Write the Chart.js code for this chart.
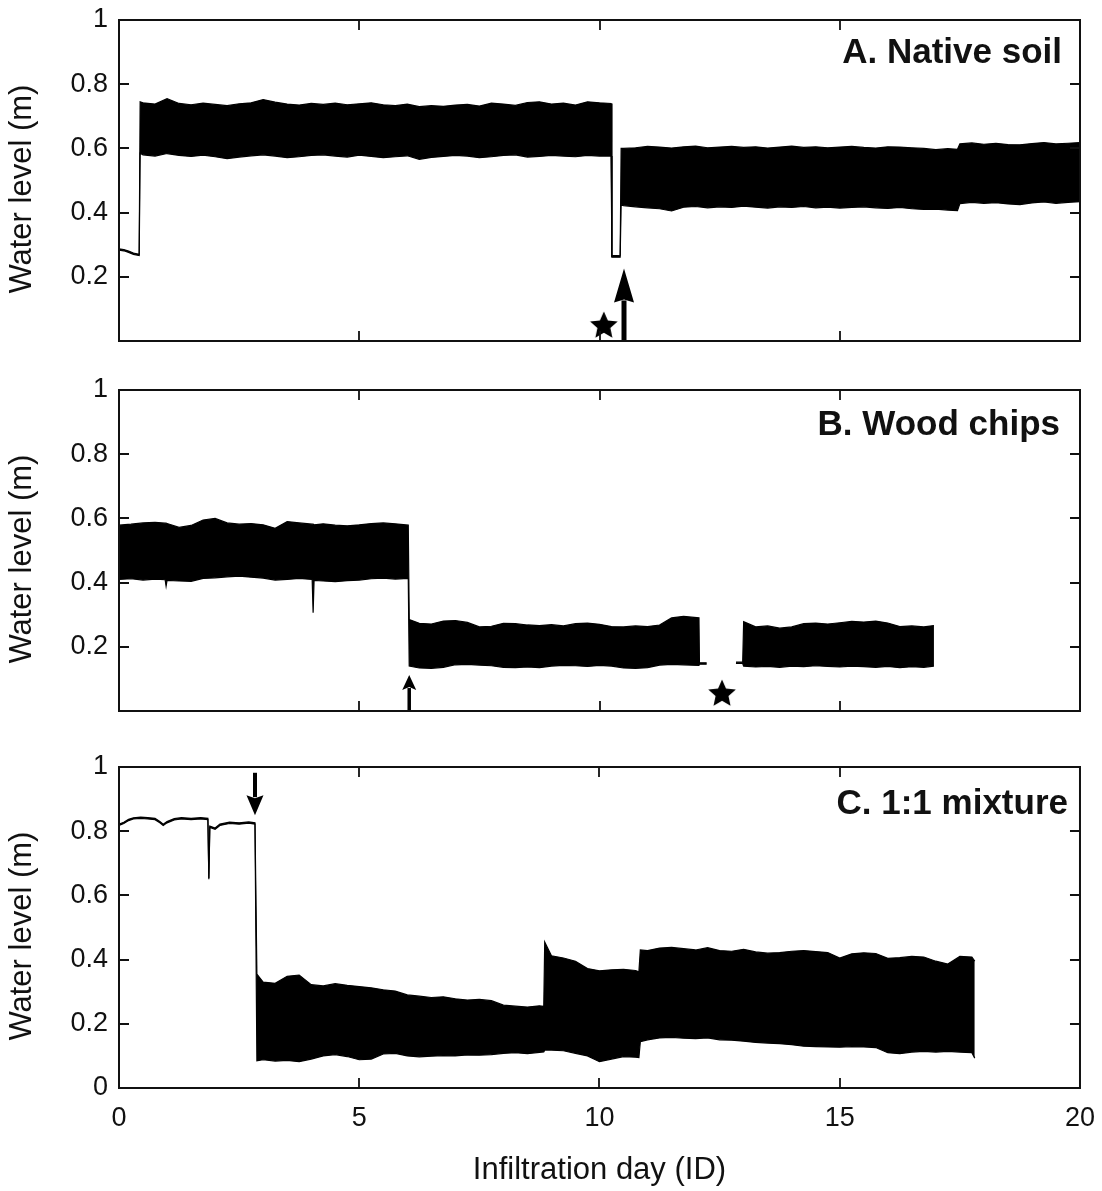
<!DOCTYPE html>
<html>
<head>
<meta charset="utf-8">
<script src="https://cdn.jsdelivr.net/npm/chart.js@4.4.0/dist/chart.umd.min.js"></script>
<style>
  body { margin: 0; background: #fff; overflow: hidden; }
  #wrap { position: relative; width: 1102px; height: 1191px; overflow: hidden; }
  canvas { position: absolute; left: 0; }
</style>
</head>
<body>
<div id="wrap">
  <canvas id="panelA" width="1109" height="381" style="top:-10px"></canvas>
  <canvas id="panelB" width="1109" height="381" style="top:360px"></canvas>
  <canvas id="panelC" width="1109" height="454" style="top:737px"></canvas>
</div>
<script>
// Water level records, read off the figure as upper/lower envelope of the daily cycling
// A. Native soil
const dayA = [0, 0.1, 0.2, 0.3, 0.42, 0.44,
  0.5, 0.75, 1, 1.25, 1.5, 1.75, 2, 2.25, 2.5, 2.75, 3, 3.25, 3.5, 3.75, 4, 4.25, 4.5, 4.75, 5, 5.25, 5.5, 5.75, 6, 6.25,
  6.5, 6.75, 7, 7.25, 7.5, 7.75, 8, 8.25, 8.5, 8.75, 9, 9.25, 9.5, 9.75, 10, 10.24,
  10.26, 10.43, 10.45,
  10.5, 10.75, 11, 11.25, 11.5, 11.75, 12, 12.25, 12.5, 12.75, 13, 13.25, 13.5, 13.75, 14, 14.25, 14.5, 14.75, 15, 15.25,
  15.5, 15.75, 16, 16.25, 16.5, 16.75, 17, 17.25, 17.45, 17.5, 17.75, 18, 18.25, 18.5, 18.75, 19, 19.25, 19.5, 19.75, 20];
const hiA = [.287, .285, .280, .274, .270, .745,
  .742, .738, .755, .740, .736, .741, .737, .733, .739, .742, .752, .744, .738, .735, .740, .737, .741, .736, .739, .742, .736, .733, .738, .730,
  .733, .731, .735, .737, .732, .741, .738, .734, .743, .745, .738, .741, .735, .745, .742, .740,
  .266, .267, .600,
  .600, .602, .606, .604, .601, .605, .607, .602, .604, .606, .603, .605, .601, .604, .607, .603, .605, .602, .604, .606,
  .603, .601, .605, .604, .602, .600, .596, .599, .597, .614, .617, .613, .616, .612, .611, .615, .618, .614, .616, .618];
const loA = [.283, .281, .276, .270, .266, .585,
  .580, .576, .584, .578, .575, .579, .574, .568, .573, .577, .580, .576, .571, .574, .578, .580, .576, .573, .579, .575, .571, .574, .577, .566,
  .572, .575, .578, .576, .571, .574, .578, .580, .573, .575, .578, .576, .574, .578, .576, .576,
  .261, .261, .425,
  .422, .418, .415, .412, .405, .417, .419, .415, .418, .416, .420, .417, .414, .418, .416, .419, .415, .417, .414, .416,
  .418, .415, .413, .416, .412, .410, .411, .408, .406, .428, .432, .429, .431, .427, .425, .430, .433, .429, .432, .434];

// B. Wood chips (null = no record)
const dayB = [0, 0.25, 0.5, 0.75, 0.96, 0.98, 1.0, 1.25, 1.5, 1.75, 2, 2.25, 2.5, 2.75, 3, 3.25, 3.5, 3.75, 4.02, 4.04, 4.06,
  4.25, 4.5, 4.75, 5, 5.25, 5.5, 5.75, 6.02,
  6.04, 6.25, 6.5, 6.75, 7, 7.25, 7.5, 7.75, 8, 8.25, 8.5, 8.75, 9, 9.25, 9.5, 9.75, 10, 10.25, 10.5, 10.75, 11, 11.25, 11.5, 11.75, 12.07,
  12.08, 12.23, 12.5, 12.84, 12.98,
  13.0, 13.25, 13.5, 13.75, 14, 14.25, 14.5, 14.75, 15, 15.25, 15.5, 15.75, 16, 16.25, 16.5, 16.75, 16.96];
const hiB = [.579, .582, .586, .588, .585, .585, .584, .572, .578, .595, .600, .586, .582, .584, .580, .569, .590, .586, .582, .582, .580,
  .583, .579, .577, .580, .584, .586, .583, .579,
  .285, .273, .271, .280, .282, .276, .262, .264, .273, .272, .268, .266, .269, .265, .272, .274, .270, .263, .262, .265, .263, .268, .290, .295, .290,
  .150, .150, null, .152, .152,
  .278, .262, .265, .258, .262, .272, .274, .271, .275, .279, .277, .280, .274, .263, .265, .262, .266];
const loB = [.410, .412, .408, .411, .409, .389, .407, .405, .404, .413, .415, .418, .420, .417, .414, .408, .410, .413, .410, .306, .407,
  .405, .403, .406, .408, .412, .414, .411, .413,
  .140, .134, .133, .136, .144, .145, .143, .141, .136, .135, .137, .135, .140, .142, .141, .139, .142, .140, .134, .133, .135, .143, .145, .144, .142,
  .146, .146, null, .148, .148,
  .140, .137, .139, .136, .140, .138, .141, .139, .137, .140, .138, .136, .139, .135, .138, .136, .140];

// C. 1:1 mixture
const dayC = [0, 0.1, 0.2, 0.3, 0.45, 0.6, 0.75, 0.85, 0.92, 1.0, 1.15, 1.3, 1.5, 1.7, 1.85, 1.87, 1.89, 2.0, 2.1, 2.3, 2.5, 2.7, 2.83,
  2.87, 3, 3.25, 3.5, 3.75, 4, 4.25, 4.5, 4.75, 5, 5.25, 5.5, 5.75, 6, 6.25, 6.5, 6.75, 7, 7.25, 7.5, 7.75, 8, 8.25, 8.5, 8.75, 8.84,
  8.86, 9, 9.25, 9.5, 9.75, 10, 10.25, 10.5, 10.75, 10.82,
  10.85, 11, 11.25, 11.5, 11.75, 12, 12.25, 12.5, 12.75, 13, 13.25, 13.5, 13.75, 14, 14.25, 14.5, 14.75, 15, 15.25, 15.5, 15.75,
  16, 16.25, 16.5, 16.75, 17, 17.25, 17.5, 17.75, 17.81];
const hiC = [.822, .828, .837, .842, .844, .842, .840, .830, .822, .830, .839, .842, .840, .842, .840, .654, .816, .810, .822, .828, .826, .829, .826,
  .355, .330, .326, .348, .352, .322, .318, .325, .320, .316, .312, .306, .302, .290, .286, .282, .284, .278, .274, .276, .272, .258, .255, .252, .256, .254,
  .455, .412, .405, .395, .372, .365, .368, .370, .366, .362,
  .430, .428, .436, .438, .434, .430, .437, .428, .426, .432, .424, .420, .422, .426, .428, .425, .422, .405, .418, .421, .419,
  .404, .406, .410, .408, .395, .386, .410, .408, .395];
const loC = [.818, .824, .833, .838, .840, .838, .836, .826, .818, .826, .835, .838, .836, .838, .836, .650, .812, .806, .818, .824, .822, .825, .822,
  .085, .088, .084, .086, .082, .090, .100, .104, .098, .088, .090, .106, .108, .100, .097, .099, .101, .100, .103, .102, .104, .108, .110, .107, .111, .112,
  .118, .118, .116, .108, .100, .082, .090, .098, .096, .095,
  .144, .150, .156, .158, .155, .154, .156, .150, .149, .146, .142, .140, .138, .135, .130, .129, .128, .127, .129, .128, .126,
  .110, .107, .112, .114, .112, .114, .112, .110, .093];

// markers: star = event, arrow = treatment
const starA = [{ x: 10.09, y: 0.05 }];
const starB = [{ x: 12.55, y: 0.056 }];
const arrowA = { day: 10.51, from: 0, to: 0.226 };
const arrowB = { day: 6.04, from: 0, to: 0.112 };
const arrowC = { day: 2.83, from: 0.982, to: 0.85 };

const panelTitles = ['A. Native soil', 'B. Wood chips', 'C. 1:1 mixture'];
const xTicks = [0, 5, 10, 15, 20];

const FONT = '"Liberation Sans", Arial, Helvetica, sans-serif';
const INK = '#111';

function toPoints(days, vals) {
  return days.map((d, i) => ({ x: d, y: vals[i] }));
}

// filled five point star used as point image
const starImg = document.createElement('canvas');
starImg.width = 30; starImg.height = 30;
(function () {
  const c = starImg.getContext('2d');
  c.beginPath();
  for (let i = 0; i < 10; i++) {
    const r = i % 2 === 0 ? 14.5 : 6.8;
    const a = -Math.PI / 2 + i * Math.PI / 5;
    const px = 15 + r * Math.cos(a), py = 16 + r * Math.sin(a);
    i === 0 ? c.moveTo(px, py) : c.lineTo(px, py);
  }
  c.closePath();
  c.fillStyle = '#000';
  c.fill();
})();

// frame, inward ticks, arrow and panel label
const panelDeco = {
  id: 'panelDeco',
  afterDatasetsDraw(chart, args, opts) {
    const { ctx, chartArea: a, scales: { x, y } } = chart;
    ctx.save();

    if (opts.arrow) {
      const s = opts.arrowStyle;
      const px = x.getPixelForValue(opts.arrow.day);
      const p0 = y.getPixelForValue(opts.arrow.from);
      const p1 = y.getPixelForValue(opts.arrow.to);
      const dir = Math.sign(p1 - p0);
      const base = p1 - dir * s.head;
      ctx.strokeStyle = '#000';
      ctx.fillStyle = '#000';
      ctx.lineWidth = s.shaft;
      ctx.beginPath();
      ctx.moveTo(px, p0);
      ctx.lineTo(px, base + dir * 2);
      ctx.stroke();
      ctx.beginPath();
      ctx.moveTo(px, p1);
      ctx.lineTo(px - s.half, base);
      ctx.lineTo(px, base + dir * 3);
      ctx.lineTo(px + s.half, base);
      ctx.closePath();
      ctx.fill();
    }

    ctx.strokeStyle = INK;
    ctx.lineWidth = 2;
    ctx.strokeRect(a.left, a.top, a.width, a.height);

    ctx.lineWidth = 1.8;
    ctx.beginPath();
    x.ticks.forEach(t => {
      if (t.value <= x.min || t.value >= x.max) return;
      const px = Math.round(x.getPixelForValue(t.value));
      ctx.moveTo(px, a.bottom); ctx.lineTo(px, a.bottom - 10);
      ctx.moveTo(px, a.top); ctx.lineTo(px, a.top + 10);
    });
    y.ticks.forEach(t => {
      if (t.value <= y.min + 1e-9 || t.value >= y.max - 1e-9) return;
      const py = Math.round(y.getPixelForValue(t.value));
      ctx.moveTo(a.left, py); ctx.lineTo(a.left + 10, py);
      ctx.moveTo(a.right, py); ctx.lineTo(a.right - 10, py);
    });
    ctx.stroke();

    ctx.fillStyle = INK;
    ctx.font = 'bold 35px ' + FONT;
    ctx.textAlign = 'right';
    ctx.textBaseline = 'alphabetic';
    ctx.fillText(opts.title, a.right - opts.titleInset, a.top + opts.titleDrop);
    ctx.restore();
  }
};

function makePanel(id, cfg) {
  const band = {
    borderColor: '#000',
    borderWidth: 1.2,
    pointRadius: 0,
    tension: 0,
    spanGaps: false
  };
  const datasets = [
    Object.assign({ data: toPoints(cfg.days, cfg.hi), fill: '+1', backgroundColor: '#000' }, band),
    Object.assign({ data: toPoints(cfg.days, cfg.lo), fill: false }, band)
  ];
  if (cfg.stars) {
    datasets.push({
      data: cfg.stars,
      showLine: false,
      pointStyle: starImg,
      pointRadius: 14,
      fill: false
    });
  }

  return new Chart(document.getElementById(id), {
    type: 'line',
    data: { datasets: datasets },
    options: {
      responsive: false,
      animation: false,
      devicePixelRatio: 1,
      layout: { padding: { top: cfg.padTop, right: 29, left: 0, bottom: 0 } },
      plugins: {
        legend: { display: false },
        tooltip: { enabled: false },
        panelDeco: {
          title: cfg.title,
          titleInset: cfg.titleInset,
          titleDrop: cfg.titleDrop,
          arrow: cfg.arrow,
          arrowStyle: cfg.arrowStyle
        }
      },
      scales: {
        x: {
          type: 'linear',
          min: 0,
          max: 20,
          afterBuildTicks: s => { s.ticks = xTicks.map(v => ({ value: v })); },
          ticks: {
            display: cfg.showX,
            color: INK,
            padding: 14,
            font: { family: FONT, size: 27 },
            maxRotation: 0
          },
          grid: { display: false, drawTicks: false },
          border: { display: false },
          title: {
            display: cfg.showX,
            text: 'Infiltration day (ID)',
            color: INK,
            font: { family: FONT, size: 31 },
            padding: { top: 0, bottom: 2 }
          },
          afterFit: s => { s.height = cfg.xHeight; }
        },
        y: {
          min: 0,
          max: 1,
          ticks: {
            stepSize: 0.2,
            color: INK,
            padding: 11,
            font: { family: FONT, size: 27 },
            callback: v => (v === 0 && !cfg.showZero) ? '' : String(+v.toFixed(1))
          },
          grid: { display: false, drawTicks: false },
          border: { display: false },
          title: {
            display: true,
            text: 'Water level (m)  ',
            color: INK,
            font: { family: FONT, size: 31 },
            padding: { top: 4, bottom: 0 }
          },
          afterFit: s => { s.width = 119; }
        }
      }
    },
    plugins: [panelDeco]
  });
}

makePanel('panelA', {
  days: dayA, hi: hiA, lo: loA, stars: starA,
  title: panelTitles[0], titleInset: 18, titleDrop: 43, arrow: arrowA,
  arrowStyle: { shaft: 5, head: 34, half: 10 },
  padTop: 30, xHeight: 30, showX: false, showZero: false
});
makePanel('panelB', {
  days: dayB, hi: hiB, lo: loB, stars: starB,
  title: panelTitles[1], titleInset: 20, titleDrop: 45, arrow: arrowB,
  arrowStyle: { shaft: 3.5, head: 15, half: 7 },
  padTop: 30, xHeight: 30, showX: false, showZero: false
});
makePanel('panelC', {
  days: dayC, hi: hiC, lo: loC,
  title: panelTitles[2], titleInset: 12, titleDrop: 47, arrow: arrowC,
  arrowStyle: { shaft: 4, head: 20, half: 8.5 },
  padTop: 30, xHeight: 103, showX: true, showZero: true
});
</script>
</body>
</html>
